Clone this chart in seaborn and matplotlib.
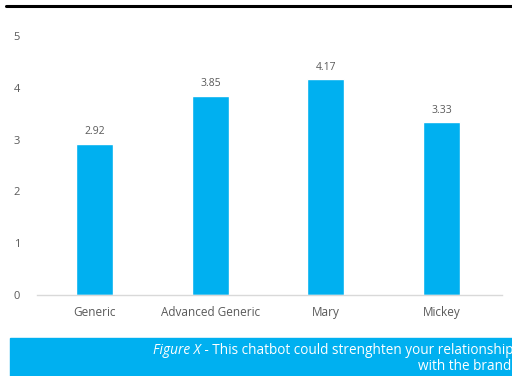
import matplotlib
matplotlib.use("Agg")
import matplotlib.pyplot as plt
import seaborn as sns
import pandas as pd
from matplotlib.lines import Line2D
from matplotlib.patches import Rectangle

# data
categories = ["Generic", "Advanced Generic", "Mary", "Mickey"]
scores = [2.92, 3.85, 4.17, 3.33]
y_ticks = [0, 1, 2, 3, 4, 5]

BLUE = "#00B0F0"
GREY = "#595959"

sns.set_style("white")
plt.rcParams["font.family"] = ["Open Sans", "DejaVu Sans"]

df = pd.DataFrame({"chatbot": categories, "score": scores})

fig = plt.figure(figsize=(5.12, 3.76), dpi=100)
ax = fig.add_axes([0.072, 0.2154, 0.908, 0.689])

sns.barplot(data=df, x="chatbot", y="score", color=BLUE, width=0.32,
            saturation=1, ax=ax)

for i, v in enumerate(scores):
    ax.text(i, v + 0.12, f"{v:.2f}", ha="center", va="bottom",
            fontsize=7.5, color=GREY)

ax.set_xlim(-0.5, 3.52)
ax.set_ylim(0, 5)
ax.set_yticks(y_ticks)
ax.set_xlabel("")
ax.set_ylabel("")
ax.tick_params(axis="both", length=0, labelsize=8.5, labelcolor=GREY)
ax.tick_params(axis="y", labelsize=8, pad=12)
ax.tick_params(axis="x", pad=8)
for side in ["top", "right", "left"]:
    ax.spines[side].set_visible(False)
ax.spines["bottom"].set_color("#d9d9d9")
ax.spines["bottom"].set_linewidth(1)

# black rule at the top
fig.add_artist(Line2D([6 / 512, 1], [1 - 6 / 376, 1 - 6 / 376],
                      color="black", linewidth=2.2, transform=fig.transFigure))

# caption box
fig.add_artist(Rectangle((10 / 512, 0), 1, 38 / 376, color=BLUE,
                         transform=fig.transFigure, zorder=0))
line1 = fig.text(1.003, 1 - 350 / 376,
                 " - This chatbot could strenghten your relationship",
                 ha="right", va="center", color="white", fontsize=9.8)
fig.text(0.998, 1 - 366 / 376, "with the brand", ha="right", va="center",
         color="white", fontsize=9.8)
fig.add_artist(plt.Annotation("Figure X", xy=(0, 0.5), xycoords=line1,
                              ha="right", va="center", color="white",
                              fontsize=9.8, style="italic"))

fig.savefig("out.png", dpi=100)
